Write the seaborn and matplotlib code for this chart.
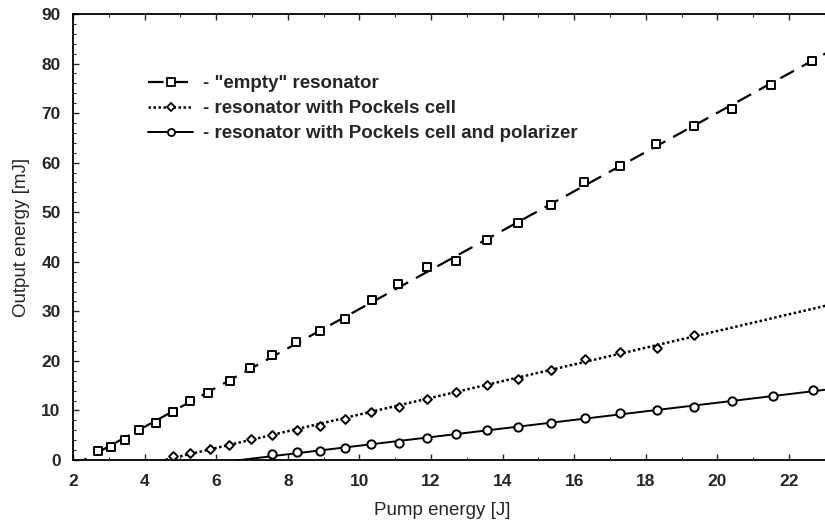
import numpy as np
import pandas as pd
import matplotlib
matplotlib.use("Agg")
import matplotlib.pyplot as plt
from matplotlib.lines import Line2D
from matplotlib.ticker import MultipleLocator
import seaborn as sns

# ---- data ----
empty_x = [2.71, 3.06, 3.45, 3.85, 4.31, 4.78, 5.27, 5.78, 6.39, 6.95, 7.56, 8.23,
           8.91, 9.61, 10.34, 11.07, 11.89, 12.69, 13.57, 14.43, 15.34, 16.27,
           17.27, 18.28, 19.35, 20.40, 21.50, 22.63]
empty_y = [1.8, 2.7, 4.0, 6.05, 7.5, 9.75, 12.0, 13.5, 15.9, 18.5, 21.2, 23.9,
           26.1, 28.5, 32.3, 35.5, 38.9, 40.2, 44.4, 47.8, 51.5, 56.0,
           59.4, 63.7, 67.5, 70.8, 75.7, 80.5]

pockels_x = [4.79, 5.27, 5.83, 6.37, 6.97, 7.56, 8.26, 8.91, 9.61, 10.33, 11.10,
             11.89, 12.69, 13.57, 14.43, 15.34, 16.30, 17.28, 18.31, 19.35]
pockels_y = [0.87, 1.47, 2.16, 3.03, 4.18, 5.04, 6.05, 6.92, 8.2, 9.75, 10.75,
             12.4, 13.7, 15.1, 16.3, 18.2, 20.4, 21.85, 22.7, 25.2]

polar_x = [7.56, 8.26, 8.91, 9.61, 10.33, 11.10, 11.89, 12.69, 13.57, 14.43,
           15.34, 16.30, 17.28, 18.31, 19.35, 20.42, 21.54, 22.66]
polar_y = [1.2, 1.55, 1.9, 2.4, 3.17, 3.37, 4.5, 5.19, 6.05, 6.6,
           7.4, 8.5, 9.4, 10.15, 10.6, 11.9, 13.0, 14.1]

labels = ['- "empty" resonator',
          '- resonator with Pockels cell',
          '- resonator with Pockels cell and polarizer']
x_ticks = [2, 4, 6, 8, 10, 12, 14, 16, 18, 20, 22]
y_ticks = [0, 10, 20, 30, 40, 50, 60, 70, 80, 90]

sns.set_style("ticks")
plt.rcParams['font.family'] = ['Liberation Sans', 'DejaVu Sans']

fig = plt.figure(figsize=(8.25, 5.28), dpi=100)
ax = fig.add_axes([73/825, 1 - 460/528, 1 - 73/825 + 0.002, (460 - 14)/528])
ax.set_xlim(2, 23.05)
ax.set_ylim(0, 90)

series = [
    (empty_x, empty_y, 's', (0, (7, 4)), 6.0, 1.6),
    (pockels_x, pockels_y, 'D', (0, (1, 1)), 4.5, 1.8),
    (polar_x, polar_y, 'o', '-', 6, 1.4),
]
handles = []
for (xs, ys, mk, ls, ms, lw), lab in zip(series, labels):
    df = pd.DataFrame({'x': xs, 'y': ys})
    sns.regplot(data=df, x='x', y='y', ax=ax, ci=None, truncate=False,
                marker=mk, color='black',
                scatter_kws=dict(s=ms**2, facecolors='white', edgecolors='black',
                                 linewidths=1.4, alpha=1, zorder=3),
                line_kws=dict(linestyle=ls, linewidth=lw, color='black', zorder=2))
    handles.append(Line2D([], [], color='black', linestyle=ls, linewidth=lw,
                          marker=mk, markersize=ms * 0.85, markerfacecolor='white',
                          markeredgecolor='black', markeredgewidth=1.3))

ax.set_xlim(2, 23.05)
ax.set_ylim(0, 90)
ax.set_xticks(x_ticks)
ax.set_yticks(y_ticks)
ax.xaxis.set_minor_locator(MultipleLocator(1))
ax.yaxis.set_minor_locator(MultipleLocator(2))
ax.tick_params(which='major', direction='in', length=4, width=1.0,
               labelsize=12.5, top=True, right=False)
ax.tick_params(axis='x', which='major', pad=10)
ax.tick_params(axis='y', which='major', pad=9)
ax.tick_params(which='minor', direction='in', length=2, width=0.8, top=True, right=False)
for t in ax.get_xticklabels() + ax.get_yticklabels():
    t.set_fontweight('bold')
ax.spines['right'].set_visible(False)
for s in ['left', 'top', 'bottom']:
    ax.spines[s].set_linewidth(1.3)
    ax.spines[s].set_color('black')

ax.set_xlabel('Pump energy [J]', fontsize=13.5, labelpad=9)
ax.set_ylabel('Output energy [mJ]', fontsize=13.5, labelpad=8)
ax.xaxis.set_label_coords((441 - 73) / (825 - 73), -0.095)

leg = ax.legend(handles, labels, loc='upper left', bbox_to_anchor=(0.09, 0.88),
                frameon=False, fontsize=13.5, handlelength=2.4, handletextpad=0.5,
                labelspacing=0.42, borderaxespad=0)
for t in leg.get_texts():
    t.set_fontweight('bold')

fig.savefig('out.png', dpi=100)
